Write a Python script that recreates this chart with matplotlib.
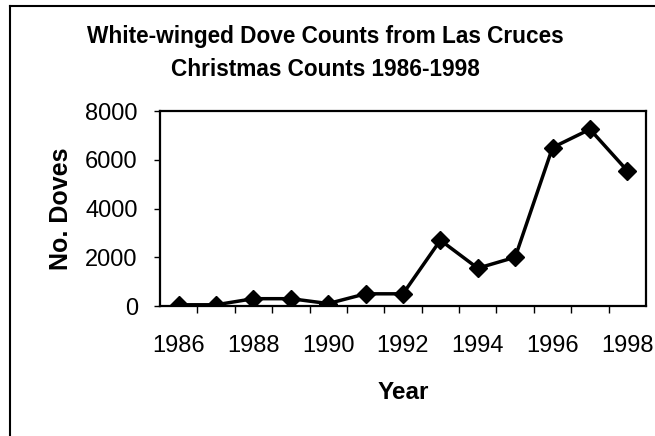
import matplotlib
matplotlib.use("Agg")
import matplotlib.pyplot as plt
from matplotlib.lines import Line2D

# === Data === #
years = [1986, 1987, 1988, 1989, 1990, 1991, 1992, 1993, 1994, 1995, 1996, 1997, 1998]
doves = [50, 50, 300, 300, 100, 500, 500, 2700, 1550, 2000, 6500, 7250, 5550]
y_ticks = [0, 2000, 4000, 6000, 8000]
x_labels = ["1986", "1988", "1990", "1992", "1994", "1996", "1998"]

plt.rcParams['font.family'] = ['Liberation Sans', 'DejaVu Sans']

fig = plt.figure(figsize=(6.55, 4.36), dpi=100)
ax = fig.add_axes([160 / 655, 1 - 306 / 436, 486 / 655, 195 / 436])

# categories are plotted at the middle of each slot, like Excel does
pos = list(range(len(years)))
ax.plot(pos, doves, color='black', linewidth=2.5, marker='D', markersize=9.5,
        markerfacecolor='black', markeredgecolor='black')

ax.set_xlim(-0.5, len(years) - 0.5)
ax.set_ylim(0, 8000)
ax.set_yticks(y_ticks)
ax.set_yticklabels([str(v) for v in y_ticks], fontsize=17)

# tick marks between categories, labels under every other year
ax.set_xticks([p + 0.5 for p in pos[:-1]])
ax.set_xticklabels([])
ax.set_xticks(pos[::2], minor=True)
ax.set_xticklabels(x_labels, minor=True, fontsize=17)
ax.tick_params(axis='x', which='major', direction='out', length=5, width=1)
ax.tick_params(axis='x', which='minor', length=0, pad=21)
ax.tick_params(axis='y', direction='out', length=4, width=1, pad=12)

for s in ax.spines.values():
    s.set_linewidth(1.6)

ax.set_xlabel("Year", fontsize=17.5, fontweight='bold', labelpad=17)
ax.set_ylabel("No. Doves", fontsize=18, fontweight='bold', labelpad=9)

fig.text(0.497, 1 - 37 / 436, "White-winged Dove Counts from Las Cruces",
         ha='center', va='center', fontsize=16.3, fontweight='bold')
fig.text(0.497, 1 - 69 / 436, "Christmas Counts 1986-1998",
         ha='center', va='center', fontsize=16.3, fontweight='bold')

# outer frame edges left from the scan
fig.add_artist(Line2D([10 / 655, 10 / 655], [0, 1 - 6 / 436], color='black', linewidth=1.5))
fig.add_artist(Line2D([10 / 655, 1], [1 - 6 / 436, 1 - 6 / 436], color='black', linewidth=1.5))

fig.savefig("out.png", dpi=100)
